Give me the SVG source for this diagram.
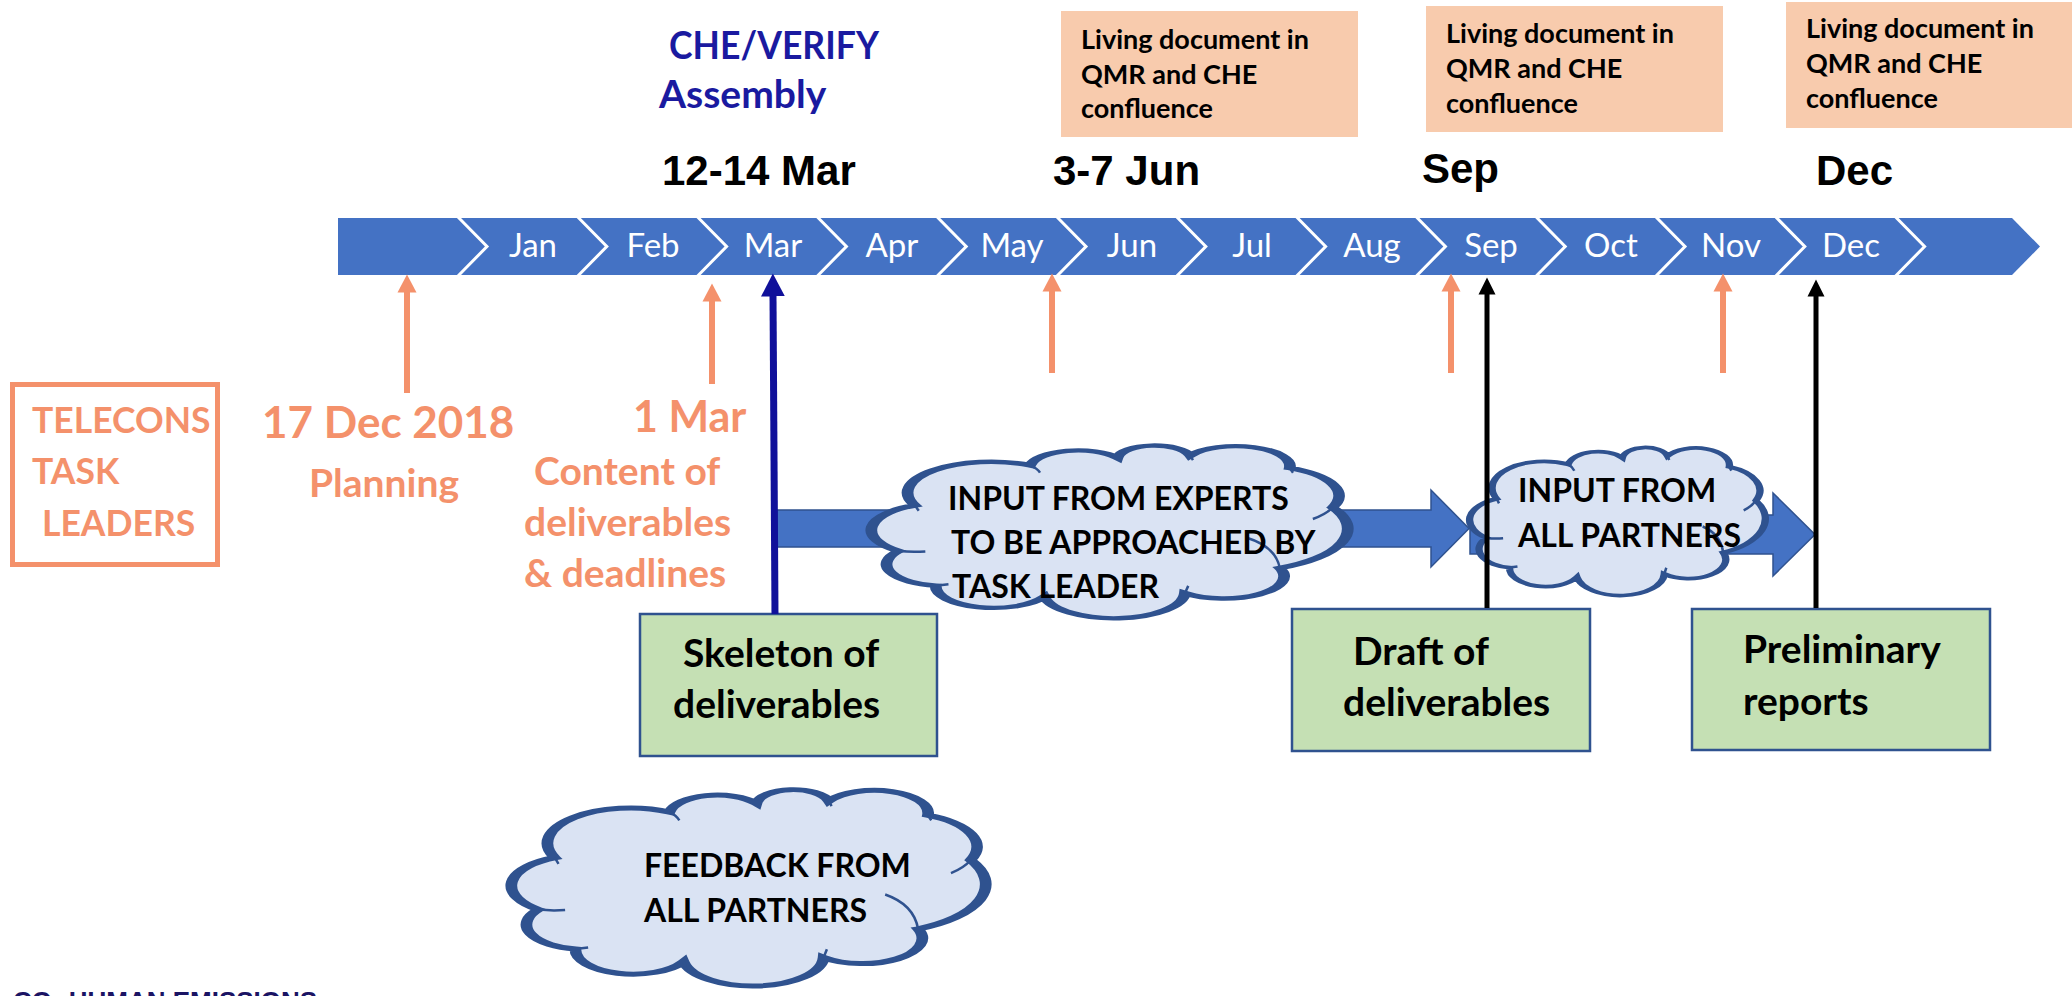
<svg xmlns="http://www.w3.org/2000/svg" width="2072" height="996" viewBox="0 0 2072 996">
<style>
.lt{font-family:Lato,"Noto Sans",sans-serif;font-weight:bold}
.month{font-family:Lato,"Noto Sans",sans-serif;font-size:33px;fill:#fff;text-anchor:middle}
.head{font-family:"Liberation Sans",Arial,sans-serif;font-weight:bold;font-size:42px;fill:#000}
.liv{font-size:27px;fill:#000}
.che{font-size:39px;fill:#1A1AA0}
.or{fill:#F4916B}
.o36{font-size:35.5px}
.o39{font-size:39px}
.o43{font-size:43px}
.o44{font-size:44px}
.boxt{font-size:39px;fill:#000}
.clt{font-size:32px;fill:#000}
.livbox{fill:#F8CBAD}
.green{fill:#C5E0B4;stroke:#2F528F;stroke-width:2.5}
.cloud{fill:#DAE3F3;stroke:#2F528F;stroke-width:2.5}
.crease{fill:none;stroke:#2F528F;stroke-width:2.5}
.blk{fill:#4472C4;stroke:#2F528F;stroke-width:1.5}
.sep{fill:none;stroke:#fff;stroke-width:3}
.ol{stroke:#F4916B;stroke-width:6;fill:none}
.nl{stroke:#10109A;stroke-width:7;fill:none}
.bl{stroke:#000;stroke-width:5;fill:none}
</style>
<defs>
<marker id="mOr" markerUnits="userSpaceOnUse" viewBox="0 -10 19 20" refX="0.5" refY="0" markerWidth="19" markerHeight="20" orient="auto"><path d="M0,-9.5 L18,0 L0,9.5 Z" fill="#F4916B"/></marker>
<marker id="mNv" markerUnits="userSpaceOnUse" viewBox="0 -13 24 26" refX="0.5" refY="0" markerWidth="24" markerHeight="26" orient="auto"><path d="M0,-12 L23,0 L0,12 Z" fill="#10109A"/></marker>
<marker id="mBk" markerUnits="userSpaceOnUse" viewBox="0 -10 18 20" refX="0.5" refY="0" markerWidth="18" markerHeight="20" orient="auto"><path d="M0,-8.5 L17,0 L0,8.5 Z" fill="#000"/></marker>
<path id="cloudShape" d="M9.1 34.5 A17.69 17.69 0 0 1 33.5 11.6 A10.38 10.38 0 0 1 52 7.2 A7.89 7.89 0 0 1 67.4 6 A11.46 11.46 0 0 1 88.5 13.2 A17.23 17.23 0 0 1 97.6 35.7 A24.7 24.7 0 0 1 86.4 70.3 A12.74 12.74 0 0 1 66.3 84.7 A15.04 15.04 0 0 1 36.5 86.8 A12.3 12.3 0 0 1 13.5 80.4 A12.45 12.45 0 0 1 5.6 60.6 A15.39 15.39 0 0 1 9.1 34.5 Z"/>
</defs>

<g id="timeline">
<polygon points="338,218 2012,218 2040,246.5 2012,275 338,275" fill="#4472C4"/>
<polyline class="sep" points="458,217 487,246.5 458,276"/>
<polyline class="sep" points="577.8,217 606.8,246.5 577.8,276"/>
<polyline class="sep" points="697.6,217 726.6,246.5 697.6,276"/>
<polyline class="sep" points="817.4,217 846.4,246.5 817.4,276"/>
<polyline class="sep" points="937.2,217 966.2,246.5 937.2,276"/>
<polyline class="sep" points="1057,217 1086,246.5 1057,276"/>
<polyline class="sep" points="1176.8,217 1205.8,246.5 1176.8,276"/>
<polyline class="sep" points="1296.6,217 1325.6,246.5 1296.6,276"/>
<polyline class="sep" points="1416.4,217 1445.4,246.5 1416.4,276"/>
<polyline class="sep" points="1536.2,217 1565.2,246.5 1536.2,276"/>
<polyline class="sep" points="1656,217 1685,246.5 1656,276"/>
<polyline class="sep" points="1775.8,217 1804.8,246.5 1775.8,276"/>
<polyline class="sep" points="1895.6,217 1924.6,246.5 1895.6,276"/>
<text class="month" x="533" y="257">Jan</text>
<text class="month" x="653" y="257">Feb</text>
<text class="month" x="773" y="257">Mar</text>
<text class="month" x="892" y="257">Apr</text>
<text class="month" x="1012" y="257">May</text>
<text class="month" x="1132" y="257">Jun</text>
<text class="month" x="1252" y="257">Jul</text>
<text class="month" x="1372" y="257">Aug</text>
<text class="month" x="1491" y="257">Sep</text>
<text class="month" x="1611" y="257">Oct</text>
<text class="month" x="1731" y="257">Nov</text>
<text class="month" x="1851" y="257">Dec</text>
</g>

<g id="assembly">
<text class="lt che" x="669" y="59" textLength="210" lengthAdjust="spacingAndGlyphs">CHE/VERIFY</text>
<text class="lt che" x="659" y="108">Assembly</text>
</g>
<g id="date-labels">
<text class="head" x="662" y="185">12-14 Mar</text>
<text class="head" x="1053" y="185">3-7 Jun</text>
<text class="head" x="1422" y="183">Sep</text>
<text class="head" x="1816" y="185">Dec</text>
</g>

<g id="living-jun">
<rect class="livbox" x="1061" y="11" width="297" height="126"/>
<text class="lt liv" x="1081" y="49">Living document in</text>
<text class="lt liv" x="1081" y="84">QMR and CHE</text>
<text class="lt liv" x="1081" y="118">confluence</text>
</g>
<g id="living-sep">
<rect class="livbox" x="1426" y="6" width="297" height="126"/>
<text class="lt liv" x="1446" y="43">Living document in</text>
<text class="lt liv" x="1446" y="78">QMR and CHE</text>
<text class="lt liv" x="1446" y="113">confluence</text>
</g>
<g id="living-dec">
<rect class="livbox" x="1786" y="2" width="297" height="126"/>
<text class="lt liv" x="1806" y="38">Living document in</text>
<text class="lt liv" x="1806" y="73">QMR and CHE</text>
<text class="lt liv" x="1806" y="108">confluence</text>
</g>

<g id="telecons">
<rect x="12.5" y="384.5" width="205" height="180" fill="none" stroke="#F4916B" stroke-width="5"/>
<text class="lt or o36" x="32" y="433">TELECONS</text>
<text class="lt or o36" x="32" y="484">TASK</text>
<text class="lt or o36" x="42" y="536">LEADERS</text>
</g>
<g id="planning">
<text class="lt or o44" x="262" y="438">17 Dec 2018</text>
<text class="lt or o39" x="309" y="497">Planning</text>
</g>
<g id="content">
<text class="lt or o43" x="633" y="432">1 Mar</text>
<text class="lt or o39" x="534" y="485">Content of</text>
<text class="lt or o39" x="524" y="536">deliverables</text>
<text class="lt or o39" x="524" y="587">&amp; deadlines</text>
</g>

<g id="flow-arrows">
<polygon class="blk" points="777,510 1431,510 1431,490 1469,528.5 1431,567 1431,547 777,547"/>
<polygon class="blk" points="1470,515 1773,515 1773,493 1815,534.5 1773,576 1773,554 1470,554"/>
</g>

<g id="cloud-experts">
<use href="#cloudShape" class="cloud" transform="translate(872 445) scale(4.72 1.75)" vector-effect="non-scaling-stroke"/>
<path class="crease" transform="translate(872 445) scale(4.72 1.75)" vector-effect="non-scaling-stroke" d="M33.5 11.6 Q35 13.2 35.6 15.8 M67.4 6 L68 8.6 M88.5 13.2 L89.2 15.8 M97.6 35.7 Q96.2 39.6 93.4 42.3 M79.4 53 Q85.5 58 86.4 70.3 M66.3 84.7 L67 80.5 M36.5 86.8 L37.2 91.2 M13.5 80.4 L16.2 79.6 M5.6 60.6 Q8.5 61.3 11.3 60.8 M9.1 34.5 L9.9 37.6"/>
<text class="lt clt" x="948" y="510">INPUT FROM EXPERTS</text>
<text class="lt clt" x="951" y="554">TO BE APPROACHED BY</text>
<text class="lt clt" x="952" y="598">TASK LEADER</text>
</g>
<g id="cloud-partners">
<use href="#cloudShape" class="cloud" transform="translate(1470 447) scale(2.93 1.5)" vector-effect="non-scaling-stroke"/>
<path class="crease" transform="translate(1470 447) scale(2.93 1.5)" vector-effect="non-scaling-stroke" d="M33.5 11.6 Q35 13.2 35.6 15.8 M67.4 6 L68 8.6 M88.5 13.2 L89.2 15.8 M97.6 35.7 Q96.2 39.6 93.4 42.3 M79.4 53 Q85.5 58 86.4 70.3 M66.3 84.7 L67 80.5 M36.5 86.8 L37.2 91.2 M13.5 80.4 L16.2 79.6 M5.6 60.6 Q8.5 61.3 11.3 60.8 M9.1 34.5 L9.9 37.6"/>
<text class="lt clt" x="1518" y="502">INPUT FROM</text>
<text class="lt clt" x="1518" y="547">ALL PARTNERS</text>
</g>
<g id="cloud-feedback">
<use href="#cloudShape" class="cloud" transform="translate(512 789) scale(4.7 1.99)" vector-effect="non-scaling-stroke"/>
<path class="crease" transform="translate(512 789) scale(4.7 1.99)" vector-effect="non-scaling-stroke" d="M33.5 11.6 Q35 13.2 35.6 15.8 M67.4 6 L68 8.6 M88.5 13.2 L89.2 15.8 M97.6 35.7 Q96.2 39.6 93.4 42.3 M79.4 53 Q85.5 58 86.4 70.3 M66.3 84.7 L67 80.5 M36.5 86.8 L37.2 91.2 M13.5 80.4 L16.2 79.6 M5.6 60.6 Q8.5 61.3 11.3 60.8 M9.1 34.5 L9.9 37.6"/>
<text class="lt clt" x="644" y="877">FEEDBACK FROM</text>
<text class="lt clt" x="644" y="922">ALL PARTNERS</text>
</g>

<g id="skeleton">
<rect class="green" x="640" y="614" width="297" height="142"/>
<text class="lt boxt" x="683" y="667">Skeleton of</text>
<text class="lt boxt" x="673" y="718">deliverables</text>
</g>
<g id="draft">
<rect class="green" x="1292" y="609" width="298" height="142"/>
<text class="lt boxt" x="1353" y="665">Draft of</text>
<text class="lt boxt" x="1343" y="716">deliverables</text>
</g>
<g id="preliminary">
<rect class="green" x="1692" y="609" width="298" height="141"/>
<text class="lt boxt" x="1743" y="663">Preliminary</text>
<text class="lt boxt" x="1743" y="715">reports</text>
</g>

<g id="connectors">
<line class="ol" x1="407" y1="393" x2="407" y2="292" marker-end="url(#mOr)"/>
<line class="ol" x1="712" y1="384" x2="712" y2="301" marker-end="url(#mOr)"/>
<line class="ol" x1="1052" y1="373" x2="1052" y2="291" marker-end="url(#mOr)"/>
<line class="ol" x1="1451" y1="373" x2="1451" y2="291" marker-end="url(#mOr)"/>
<line class="ol" x1="1723" y1="373" x2="1723" y2="291" marker-end="url(#mOr)"/>
<line class="nl" x1="775" y1="614" x2="773" y2="296" marker-end="url(#mNv)"/>
<line class="bl" x1="1487" y1="608" x2="1487" y2="294" marker-end="url(#mBk)"/>
<line class="bl" x1="1816" y1="608" x2="1816" y2="296" marker-end="url(#mBk)"/>
</g>

<g id="footer">
<text font-family="'Liberation Sans',Arial,sans-serif" font-weight="bold" font-size="26" fill="#1B1464" x="13" y="1010">CO<tspan font-size="17" dy="6">2</tspan><tspan dy="-6"> HUMAN EMISSIONS</tspan></text>
</g>
</svg>
